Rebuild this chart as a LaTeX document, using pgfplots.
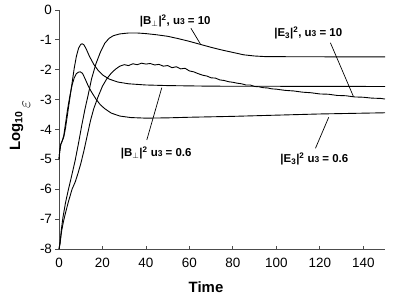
\documentclass[border=0pt]{standalone}
\usepackage{fontspec}
\setmainfont{Liberation Sans}
\usepackage{pgfplots}
\pgfplotsset{compat=1.18}
\newcommand{\us}{u{\fontsize{8.5}{9}\selectfont 3}}
\begin{document}
\begin{tikzpicture}
\begin{axis}[
  scale only axis, width=326bp, height=239bp,
  xmin=0, xmax=150, ymin=-8, ymax=0,
  axis lines=left, axis line style={-, line width=0.9pt, black!70},
  xtick={0,20,...,140}, xticklabels={0,20,40,60,80,100,120,140},
  ytick={-8,-7,...,0}, yticklabels={-8,-7,-6,-5,-4,-3,-2,-1,0},
  xtick align=inside, ytick align=outside,
  major tick length=3.5bp,
  tick style={black!70, line width=0.8pt},
  ticklabel style={font=\fontsize{13.5}{15}\selectfont},
  xticklabel style={yshift=-6bp},
  xlabel={Time},
  xlabel style={at={(axis description cs:0.451,-0.18)}, anchor=base, font=\fontsize{15}{17}\selectfont\bfseries},
  ylabel={Log\textsubscript{10}\,\raisebox{-10bp}{\fontsize{17}{19}\selectfont$\varepsilon$}},
  ylabel style={at={(axis description cs:-0.1196,0.515)}, anchor=base, font=\fontsize{15}{17}\selectfont\bfseries},
  clip=false,
  cycle list={{black, line width=0.9pt, no marks}},
]
% |B_perp|^2, u3 = 10
\addplot[black, line width=0.9pt] coordinates {(0,-8) (0.5,-7.8) (1,-7.4) (1.8,-6.95) (3,-6.45) (4.2,-6.05) (5.5,-5.65) (7.4,-5.05) (9,-4.45) (10.5,-3.85) (12,-3.3) (13.4,-2.85) (15,-2.3) (17,-1.8) (19,-1.42) (21,-1.12) (23,-0.95) (25,-0.86) (28,-0.8) (32,-0.77) (36,-0.77) (40,-0.79) (45,-0.83) (50,-0.88) (55,-0.96) (60,-1.05) (65,-1.15) (70,-1.25) (75,-1.34) (80,-1.42) (85,-1.5) (90,-1.54) (95,-1.56) (110,-1.565) (150,-1.57)};
% |E_3|^2, u3 = 10
\addplot[black, line width=0.9pt] coordinates {(0,-8) (0.5,-7.8) (1.2,-7.4) (2,-7.1) (2.8,-6.85) (4.2,-6.45) (6,-6.0) (7.5,-5.75) (8.8,-5.45) (10,-5.15) (11.5,-4.7) (13,-4.2) (14.5,-3.7) (16,-3.3) (18,-2.9) (20,-2.55) (22,-2.3) (24,-2.12) (26,-1.98) (28,-1.88) (30,-1.83) (32,-1.86) (34,-1.8) (36,-1.83) (38,-1.78) (40,-1.81) (42,-1.79) (44,-1.84) (46,-1.82) (48,-1.88) (50,-1.86) (52,-1.93) (54,-1.9) (56,-1.97) (58,-1.95) (60,-2.04) (62,-2.07) (64,-2.13) (66,-2.18) (68,-2.21) (70,-2.27) (72,-2.28) (74,-2.34) (76,-2.36) (78,-2.4) (80,-2.42) (82,-2.45) (84,-2.47) (86,-2.51) (88,-2.51) (90,-2.56) (92,-2.57) (94,-2.6) (96,-2.61) (98,-2.64) (100,-2.65) (104,-2.69) (108,-2.71) (112,-2.75) (116,-2.77) (120,-2.81) (124,-2.82) (128,-2.86) (132,-2.87) (136,-2.91) (140,-2.92) (144,-2.95) (148,-2.96) (150,-2.98)};
% |B_perp|^2, u3 = 0.6
\addplot[black, line width=0.9pt] coordinates {(0,-5.0) (0.3,-4.75) (0.8,-4.5) (1.5,-4.38) (2.2,-4.25) (3,-3.95) (4,-3.45) (5,-2.95) (6,-2.45) (7,-1.95) (8,-1.55) (9,-1.28) (10,-1.15) (10.7,-1.13) (11.5,-1.17) (12.5,-1.3) (14,-1.55) (16,-1.82) (18,-2.02) (20,-2.17) (23,-2.31) (27,-2.41) (32,-2.47) (40,-2.51) (50,-2.53) (70,-2.55) (150,-2.56)};
% |E_3|^2, u3 = 0.6
\addplot[black, line width=0.9pt] coordinates {(0,-5.0) (0.3,-4.75) (0.8,-4.5) (1.5,-4.38) (2.2,-4.2) (3,-3.8) (4,-3.3) (5,-2.88) (6,-2.52) (7,-2.27) (8,-2.13) (9,-2.08) (9.8,-2.07) (10.8,-2.12) (12,-2.3) (13.5,-2.55) (15,-2.75) (17,-2.98) (19,-3.17) (21,-3.3) (24,-3.45) (28,-3.55) (33,-3.6) (40,-3.62) (50,-3.61) (60,-3.59) (80,-3.56) (100,-3.52) (120,-3.48) (150,-3.44)};
% labels and leader lines
\draw[black, line width=0.7pt] (axis cs:60.7,-0.61) -- (axis cs:65,-1.13);
\draw[black, line width=0.7pt] (axis cs:124.9,-1.1) -- (axis cs:135.5,-2.9);
\draw[black, line width=0.7pt] (axis cs:40.4,-4.35) -- (axis cs:47.3,-2.6);
\draw[black, line width=0.7pt] (axis cs:118,-4.63) -- (axis cs:124.1,-3.59);
\node[anchor=base, font=\fontsize{11.5}{13}\selectfont\bfseries] at (axis cs:53.5,-0.5) {|B$_{\perp}$|\textsuperscript{2}, \us{} = 10};
\node[anchor=base, font=\fontsize{11.5}{13}\selectfont\bfseries] at (axis cs:114.7,-0.9) {|E\textsubscript{3}|\textsuperscript{2}, \us{} = 10};
\node[anchor=base, font=\fontsize{11.5}{13}\selectfont\bfseries] at (axis cs:44.7,-4.92) {|B$_{\perp}$|\textsuperscript{2} \us{} = 0.6};
\node[anchor=base, font=\fontsize{11.5}{13}\selectfont\bfseries] at (axis cs:117.5,-5.12) {|E\textsubscript{3}|\textsuperscript{2} \us{} = 0.6};
\end{axis}
\pgfresetboundingbox
\useasboundingbox (-59bp,-50bp) rectangle (340bp,249bp);
\end{tikzpicture}
\end{document}
